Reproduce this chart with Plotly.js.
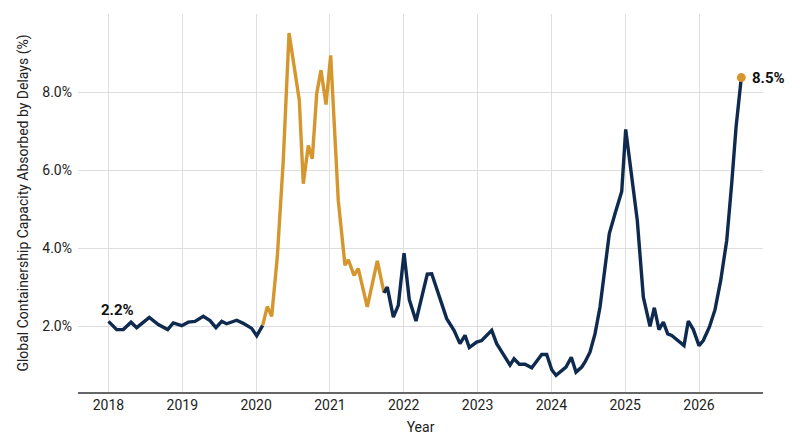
<!DOCTYPE html>
<html>
<head>
<meta charset="utf-8">
<script src="https://cdn.plot.ly/plotly-3.0.1.min.js"></script>
<style>
  html, body { margin: 0; padding: 0; background: #fff; }
  #chart { width: 800px; height: 447px; }
</style>
</head>
<body>
<div id="chart"></div>
<script>
// decimal years and values (%), three line segments
const normalYears1 = [2018.0, 2018.111, 2018.201, 2018.305, 2018.382, 2018.481, 2018.553, 2018.675,
  2018.802, 2018.878, 2018.992, 2019.081, 2019.172, 2019.284, 2019.375, 2019.456, 2019.534,
  2019.601, 2019.737, 2019.826, 2019.940, 2020.008, 2020.089];
const normalValues1 = [2.12, 1.91, 1.91, 2.1, 1.96, 2.1, 2.22, 2.04,
  1.91, 2.08, 2.01, 2.1, 2.12, 2.25, 2.14, 1.96, 2.12,
  2.06, 2.15, 2.07, 1.94, 1.75, 2.02];

// pandemic disruption period, drawn in orange
const crisisYears = [2020.089, 2020.151, 2020.211, 2020.287, 2020.368, 2020.446, 2020.585, 2020.639,
  2020.707, 2020.761, 2020.821, 2020.879, 2020.947, 2021.010, 2021.113, 2021.204, 2021.249,
  2021.326, 2021.384, 2021.506, 2021.642, 2021.733];
const crisisValues = [2.02, 2.5, 2.25, 3.77, 6.25, 9.51, 7.79, 5.65,
  6.63, 6.29, 7.96, 8.56, 7.68, 8.94, 5.22, 3.56, 3.7,
  3.3, 3.47, 2.49, 3.67, 2.85];

const normalYears2 = [2021.733, 2021.777, 2021.859, 2021.926, 2022.004, 2022.075, 2022.166, 2022.243,
  2022.319, 2022.379, 2022.491, 2022.582, 2022.681, 2022.762, 2022.830, 2022.888, 2022.988,
  2023.056, 2023.192, 2023.259, 2023.358, 2023.440, 2023.494, 2023.566, 2023.643, 2023.734,
  2023.801, 2023.869, 2023.937, 2024.005, 2024.063, 2024.140, 2024.198, 2024.270, 2024.334,
  2024.411, 2024.456, 2024.523, 2024.591, 2024.659, 2024.713, 2024.785, 2024.862, 2024.930,
  2024.953, 2025.007, 2025.088, 2025.164, 2025.246, 2025.336, 2025.395, 2025.458, 2025.517,
  2025.576, 2025.630, 2025.720, 2025.797, 2025.855, 2025.923, 2026.000, 2026.058, 2026.140,
  2026.217, 2026.294, 2026.376, 2026.443, 2026.502, 2026.573];
const normalValues2 = [2.85, 3.0, 2.23, 2.53, 3.87, 2.68, 2.13, 2.7,
  3.33, 3.34, 2.74, 2.19, 1.89, 1.55, 1.76, 1.45, 1.59,
  1.63, 1.89, 1.55, 1.25, 1.0, 1.16, 1.02, 1.02, 0.93,
  1.1, 1.27, 1.27, 0.88, 0.74, 0.86, 0.95, 1.2, 0.82,
  0.95, 1.08, 1.33, 1.8, 2.49, 3.34, 4.37, 4.88, 5.35,
  5.45, 7.04, 5.91, 4.71, 2.74, 1.99, 2.47, 1.91, 2.1,
  1.8, 1.76, 1.63, 1.5, 2.13, 1.91, 1.5, 1.63, 1.97,
  2.42, 3.17, 4.2, 5.65, 7.1, 8.37];

const yearTicks = [2018, 2019, 2020, 2021, 2022, 2023, 2024, 2025, 2026];
const valueTicks = [2, 4, 6, 8];
const valueTickText = ["2.0%", "4.0%", "6.0%", "8.0%"];
const startLabel = "2.2%";
const endLabel = "8.5%";

const navy = "#0f2a4f";
const orange = "#d6962e";

function lineTrace(xs, ys, color) {
  return {
    x: xs, y: ys,
    type: "scatter", mode: "lines",
    line: { color: color, width: 3.4 },
    hoverinfo: "skip", showlegend: false
  };
}

const lastX = normalYears2[normalYears2.length - 1];
const lastY = normalValues2[normalValues2.length - 1];

const data = [
  lineTrace(normalYears1, normalValues1, navy),
  lineTrace(crisisYears, crisisValues, orange),
  lineTrace(normalYears2, normalValues2, navy),
  {
    x: [lastX], y: [lastY],
    type: "scatter", mode: "markers",
    marker: { color: orange, size: 9 },
    showlegend: false
  }
];

const layout = {
  width: 800,
  height: 447,
  margin: { l: 78, r: 37, t: 14, b: 55 },
  paper_bgcolor: "#fff",
  plot_bgcolor: "#fff",
  font: { family: "Roboto, Arial, sans-serif", size: 14, color: "#222" },
  xaxis: {
    range: [2017.587, 2026.867],
    tickvals: yearTicks,
    ticktext: yearTicks.map(String),
    showgrid: true,
    gridcolor: "#dedede",
    gridwidth: 1,
    zeroline: false,
    showline: true,
    linecolor: "#666",
    linewidth: 1.5,
    ticks: "",
    tickfont: { size: 14, color: "#222" },
    title: { text: "Year", font: { size: 14, color: "#222" }, standoff: 10 }
  },
  yaxis: {
    range: [0.31, 10.0],
    tickvals: valueTicks,
    ticktext: valueTickText,
    ticklabelstandoff: 5,
    showgrid: true,
    gridcolor: "#dedede",
    gridwidth: 1,
    zeroline: false,
    showline: false,
    ticks: "",
    tickfont: { size: 14, color: "#222" },
    title: {
      text: "Global Containership Capacity Absorbed by Delays (%)",
      font: { size: 14, color: "#222" },
      standoff: 10
    }
  },
  annotations: [
    {
      x: normalYears1[0], y: normalValues1[0],
      text: "<b>" + startLabel + "</b>",
      showarrow: false,
      xanchor: "center", yanchor: "bottom",
      xshift: 9, yshift: 0,
      font: { size: 15, color: "#111" }
    },
    {
      x: lastX, y: lastY,
      text: "<b>" + endLabel + "</b>",
      showarrow: false,
      xanchor: "left", yanchor: "middle",
      xshift: 9,
      font: { size: 15, color: "#111" }
    }
  ]
};

Plotly.newPlot("chart", data, layout, { displayModeBar: false, staticPlot: true });
</script>
</body>
</html>
